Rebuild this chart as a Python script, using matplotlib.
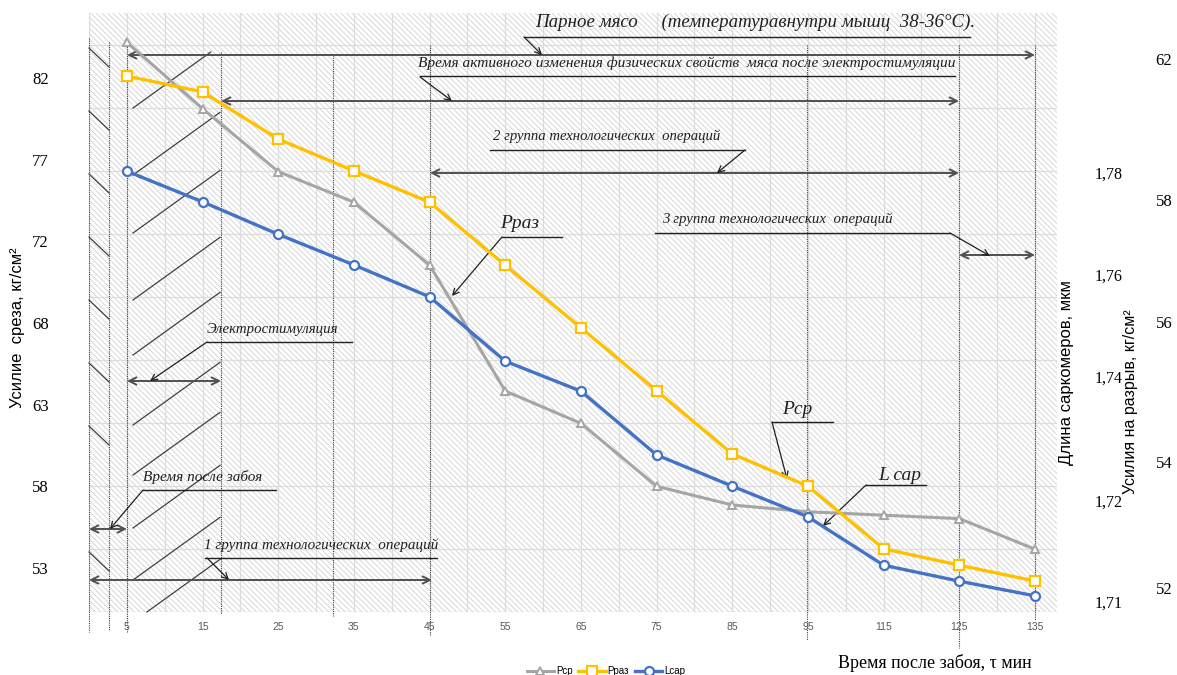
import matplotlib
matplotlib.use("Agg")
import matplotlib.pyplot as plt
from matplotlib.patches import Rectangle
from matplotlib.ticker import FixedLocator, FixedFormatter, FormatStrFormatter

# time after slaughter, min (category axis)
times = ["5", "15", "25", "35", "45", "55", "65", "75", "85", "95", "115", "125", "135"]
# shear force, kg/cm2 (left axis)
p_sr = [84.1, 80.2, 76.5, 74.7, 71.0, 63.6, 61.7, 58.0, 56.9, 56.5, 56.3, 56.1, 54.3]
# tensile force, kg/cm2 (outer right axis)
p_raz = [61.66, 61.36, 60.47, 59.87, 59.28, 58.09, 56.91, 55.72, 54.53, 53.92, 52.74, 52.43, 52.13]
# sarcomere length, um (inner right axis)
l_sar = [1.7803, 1.7753, 1.7700, 1.7650, 1.7598, 1.7493, 1.7444, 1.7340, 1.7289, 1.7239, 1.7160, 1.7134, 1.7110]

sr_ticks = [53.2, 58.0, 62.8, 67.6, 72.4, 77.2, 82.0]
sar_ticks = [1.71, 1.7266, 1.7467, 1.7634, 1.78]
sar_labels = ["1,71", "1,72", "1,74", "1,76", "1,78"]
raz_ticks = [52.0, 54.38, 57.02, 59.32, 61.99]
raz_labels = ["52", "54", "56", "58", "62"]
legend_labels = ["Рср", "Рраз", "Lсар"]

W, H = 1177, 675
SERIF = "Liberation Serif"
SANS = "Liberation Sans"
DARK = "#404040"
plt.rcParams["hatch.linewidth"] = 0.6

fig = plt.figure(figsize=(W / 100, H / 100), dpi=100)
rect = [89 / W, 1 - 612 / H, (1057 - 89) / W, (612 - 13) / H]

# background: hatch + light grid
bg = fig.add_axes(rect, zorder=-3)
bg.set_xlim(0, 1)
bg.set_ylim(0, 1)
bg.axis("off")
bg.add_patch(Rectangle((0, 0), 1, 1, facecolor="white", edgecolor="#d2d2d2",
                       hatch="\\\\\\\\\\\\", lw=0))
for k in range(1, 10):
    f = k * 63 / 599
    bg.plot([0, 1], [f, f], color="#dcdcdc", lw=0.9)
for k in range(26):
    f = k * 37.84 / 968
    bg.plot([f, f], [0, 1], color="#dcdcdc", lw=0.9)
bg.plot([0, 1], [0, 0], color="#d0d0d0", lw=1.0)

# annotation layer in pixel coordinates
ov = fig.add_axes([0, 0, 1, 1], zorder=-2)
ov.set_xlim(0, W)
ov.set_ylim(H, 0)
ov.axis("off")

for x, y0, y1 in [(89, 38, 632), (109, 42, 630), (127, 42, 632), (221, 52, 614),
                  (333, 55, 616), (430, 45, 635), (807, 45, 640), (959, 45, 648),
                  (1035, 45, 620)]:
    ov.plot([x, x], [y0, y1], color=DARK, lw=0.8, ls=(0, (1, 1)))

for k in range(10):
    if k == 7:
        continue
    y0 = 48 + 63 * k
    if y0 + 19 > 612:
        continue
    ov.plot([89, 109], [y0, y0 + 19], color=DARK, lw=0.9)

for y0 in [108, 175, 233, 300, 355, 425, 475, 528, 580, 622]:
    x0, x1 = 133.0, 220.0
    y1 = y0 - 0.72 * (x1 - x0)
    if y1 < 52:
        x1 = x0 + (y0 - 52) / 0.72
        y1 = 52
    if y0 > 612:
        x0 = x0 + (y0 - 612) / 0.72
        y0 = 612
    ov.plot([x0, x1], [y0, y1], color=DARK, lw=0.9)


def span(y, x0, x1):
    ov.annotate("", xy=(x1, y), xytext=(x0, y),
                arrowprops=dict(arrowstyle="<->", color="#505050", lw=1.4,
                                shrinkA=0, shrinkB=0, mutation_scale=13))


def label(text, x, y, size, ux0, ux1, uy, lx0, ly0, lx1, ly1):
    ov.text(x, y, text, fontsize=size, family=SERIF, style="italic",
            ha="left", va="center", color="#202020")
    ov.plot([ux0, ux1], [uy, uy], color="#202020", lw=1.0)
    ov.annotate("", xy=(lx1, ly1), xytext=(lx0, ly0),
                arrowprops=dict(arrowstyle="->", color="#202020", lw=0.9,
                                shrinkA=0, shrinkB=0, mutation_scale=11))


span(55, 127, 1035)
span(101, 221, 959)
span(173, 430, 959)
span(255, 959, 1035)
span(381, 127, 221)
span(529, 89, 127)
span(580, 89, 432)

label("Парное мясо     (температуравнутри мышц  38-36°С).", 535, 22, 13.6,
      524, 970, 37, 524, 37, 542, 55)
label("Время активного изменения физических свойств  мяса после электростимуляции",
      418, 63, 11.1, 420, 955, 76, 420, 77, 452, 101)
label("2 группа технологических  операций", 493, 136, 10.6,
      490, 745, 150, 745, 150, 717, 173)
label("Рраз", 500, 224, 14, 502, 562, 237, 502, 237, 452, 296)
label("3 группа технологических  операций", 662, 219, 10.7,
      655, 950, 233, 950, 233, 990, 256)
label("Электростимуляция", 207, 330, 10.7, 207, 352, 342, 207, 342, 150, 381)
label("Время после забоя", 143, 477, 11, 143, 276, 490, 143, 490, 110, 529)
label("1 группа технологических  операций", 204, 545, 10.9,
      205, 437, 558, 207, 558, 229, 580)
label("Рср", 782, 410, 14, 772, 833, 422, 772, 422, 787, 479)
label("L сар", 878, 475, 14, 866, 926, 485, 866, 485, 823, 526)

# data axes
ax = fig.add_axes(rect, zorder=0)
ax.set_facecolor("none")
x = list(range(len(times)))
ax.set_xlim(-0.5, 12.29)
ax.set_ylim(50.61, 85.82)
for s in ax.spines.values():
    s.set_visible(False)

ax_sar = ax.twinx()
ax_sar.set_ylim(1.70837, 1.80611)
ax_raz = ax.twinx()
ax_raz.set_ylim(51.547, 62.849)
for a in (ax_sar, ax_raz):
    for s in a.spines.values():
        s.set_visible(False)

h1, = ax.plot(x, p_sr, color="#a5a5a5", lw=2.2, marker="^", ms=6,
              mfc="white", mec="#a5a5a5", mew=1.4)
h3, = ax_sar.plot(x, l_sar, color="#4472c4", lw=2.4, marker="o", ms=6.5,
                  mfc="white", mec="#4472c4", mew=1.6)
h2, = ax_raz.plot(x, p_raz, color="#ffc000", lw=2.4, marker="s", ms=6.5,
                  mfc="white", mec="#ffc000", mew=1.6)

ax.set_xticks(x)
ax.set_xticklabels(times, fontsize=7.5, color="#595959", family=SANS)
ax.tick_params(axis="x", length=0, pad=7)

ax.yaxis.set_major_locator(FixedLocator(sr_ticks))
ax.yaxis.set_major_formatter(FormatStrFormatter("%.0f"))
ax.tick_params(axis="y", length=0, pad=29, labelsize=12)
for t in ax.get_yticklabels():
    t.set_family(SERIF)

ax_sar.yaxis.set_major_locator(FixedLocator(sar_ticks))
ax_sar.yaxis.set_major_formatter(FixedFormatter(sar_labels))
ax_sar.tick_params(axis="y", length=0, pad=27, labelsize=11.5)
for t in ax_sar.get_yticklabels():
    t.set_family(SERIF)

ax_raz.yaxis.set_major_locator(FixedLocator(raz_ticks))
ax_raz.yaxis.set_major_formatter(FixedFormatter(raz_labels))
ax_raz.tick_params(axis="y", length=0, pad=71, labelsize=12)
for t in ax_raz.get_yticklabels():
    t.set_family(SERIF)

fig.text(18 / W, 1 - 328 / H, "Усилие  среза, кг/см²", rotation=90,
         ha="center", va="center", fontsize=12, family=SANS)
fig.text(1066 / W, 1 - 373 / H, "Длина саркомеров, мкм", rotation=90,
         ha="center", va="center", fontsize=12, family=SANS)
fig.text(1130 / W, 1 - 402 / H, "Усилия на разрыв, кг/см²", rotation=90,
         ha="center", va="center", fontsize=11.5, family=SANS)
fig.text(935 / W, 1 - 663 / H, "Время после забоя, τ мин", ha="center",
         va="center", fontsize=13, family=SERIF)

fig.legend([h1, h2, h3], legend_labels, loc="center", bbox_to_anchor=(606 / W, 1 - 671 / H),
           ncol=3, frameon=False, handlelength=2.8, columnspacing=0.6,
           handletextpad=0.2, prop={"family": SANS, "size": 7})

fig.savefig("out.png", dpi=100)
